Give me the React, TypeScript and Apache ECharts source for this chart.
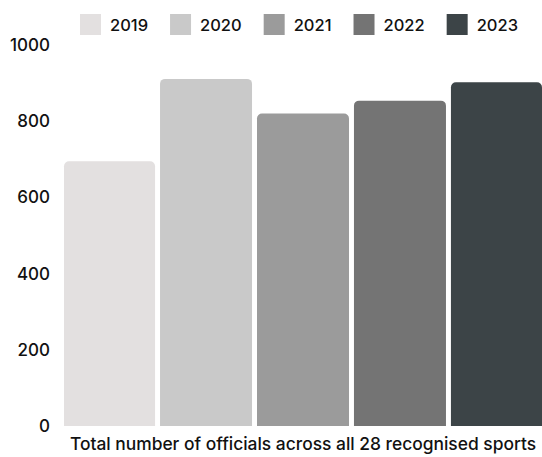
import React, { useEffect, useRef } from "react";
import * as echarts from "echarts";

const categories = ["Total number of officials across all 28 recognised sports"];
const years = ["2019", "2020", "2021", "2022", "2023"];
const values = [695, 911, 820, 854, 902];
const colors = ["#e3e0e0", "#c9c9c9", "#9b9b9b", "#747474", "#3c4447"];
const yTicks = { min: 0, max: 1000, interval: 200 };

const FONT = "Inter";

export default function App() {
  const ref = useRef<HTMLDivElement>(null);
  useEffect(() => {
    const chart = echarts.init(ref.current!, null, { renderer: "svg" });
    chart.setOption({
      animation: false,
      textStyle: { fontFamily: FONT },
      legend: {
        top: 9,
        right: 19,
        itemWidth: 21,
        itemHeight: 21,
        itemGap: 22,
        icon: "rect",
        textStyle: { fontSize: 16.5, color: "#111", fontFamily: FONT, fontWeight: 500, padding: [0, 0, 0, 4] },
        data: years,
      },
      grid: { left: 64, right: -2, top: 45, bottom: 31 },
      xAxis: {
        type: "category",
        data: categories,
        axisLine: { show: false },
        axisTick: { show: false },
        axisLabel: { margin: 9, fontSize: 17.4, color: "#111", fontFamily: FONT, fontWeight: 500 },
      },
      yAxis: {
        type: "value",
        min: yTicks.min,
        max: yTicks.max,
        interval: yTicks.interval,
        splitLine: { show: false },
        axisLine: { show: false },
        axisTick: { show: false },
        axisLabel: {
          margin: 14,
          fontSize: 17,
          color: "#111",
          fontFamily: FONT,
          fontWeight: 500,
          formatter: (v: number) => String(v),
        },
      },
      series: years.map((y, i) => ({
        type: "bar",
        name: y,
        data: [values[i]],
        barWidth: 92,
        barGap: "5.4%",
        itemStyle: { color: colors[i], borderRadius: [5, 5, 0, 0] },
      })),
    });
    return () => chart.dispose();
  }, []);
  return <div ref={ref} style={{ width: 542, height: 457, position: "absolute", left: 0, top: 0 }} />;
}
